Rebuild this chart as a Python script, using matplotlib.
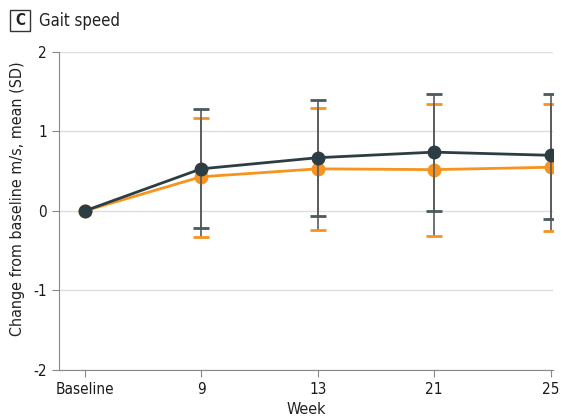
import matplotlib.pyplot as plt
from matplotlib.patches import Rectangle

plt.rcParams['font.family'] = ['DejaVu Sans']
plt.rcParams['font.stretch'] = 'condensed'
plt.rcParams['axes.unicode_minus'] = False

weeks = ["Baseline", "9", "13", "21", "25"]
dark_mean = [0, 0.53, 0.67, 0.74, 0.70]
dark_upper = [0, 1.28, 1.39, 1.47, 1.47]
dark_lower = [0, -0.21, -0.06, 0.0, -0.10]
orange_mean = [0, 0.43, 0.53, 0.52, 0.55]
orange_upper = [0, 1.17, 1.30, 1.34, 1.35]
orange_lower = [0, -0.33, -0.24, -0.31, -0.25]

dark = "#2c3e44"
orange = "#f7931e"
x = list(range(len(weeks)))

fig = plt.figure(figsize=(5.61, 4.19), dpi=100)
ax = fig.add_axes([0.105, 0.117, 0.881, 0.759])

def draw(mean, up, lo, col, capcol, z):
    err = [[m - l for m, l in zip(mean, lo)], [u - m for m, u in zip(mean, up)]]
    ax.errorbar(x[1:], mean[1:], yerr=[err[0][1:], err[1][1:]], fmt='none',
                ecolor="#5a5a5a", elinewidth=1.2, capsize=0, zorder=z)
    ax.plot(x[1:], up[1:], linestyle='none', marker='_', ms=12, mew=2,
            color=capcol, zorder=z)
    ax.plot(x[1:], lo[1:], linestyle='none', marker='_', ms=12, mew=2,
            color=capcol, zorder=z)
    ax.plot(x, mean, color=col, lw=2, marker='o', ms=9, zorder=z + 1)

draw(orange_mean, orange_upper, orange_lower, orange, orange, 3)
draw(dark_mean, dark_upper, dark_lower, dark, "#4a5a60", 5)

ax.set_xlim(-0.22, 4.02)
ax.set_ylim(-2, 2)
ax.set_yticks([-2, -1, 0, 1, 2])
ax.set_xticks(x)
ax.set_xticklabels(weeks)
ax.grid(axis='y', color="#dddddd", lw=1)
ax.set_axisbelow(True)
for s in ['top', 'right']:
    ax.spines[s].set_visible(False)
for s in ['left', 'bottom']:
    ax.spines[s].set_color("#888888")
ax.tick_params(colors="#888888", labelcolor="#1a1a1a", labelsize=11, length=5)
ax.set_xlabel("Week", fontsize=11.5, color="#222222")
ax.set_ylabel("Change from baseline m/s, mean (SD)", fontsize=11.5, color="#222222")
ax.yaxis.set_label_coords(-0.068, 0.54)

fig.patches.append(Rectangle((10 / 561, 1 - 31 / 419), 20 / 561, 21 / 419,
                             transform=fig.transFigure, fill=False,
                             edgecolor="#333333", lw=1))
fig.text(20 / 561, 1 - 20.5 / 419, "C", fontsize=11, fontweight='bold',
         ha='center', va='center', color="#222222")
fig.text(39 / 561, 1 - 20.5 / 419, "Gait speed", fontsize=12,
         ha='left', va='center', color="#222222")

fig.savefig("out.png", dpi=100)
